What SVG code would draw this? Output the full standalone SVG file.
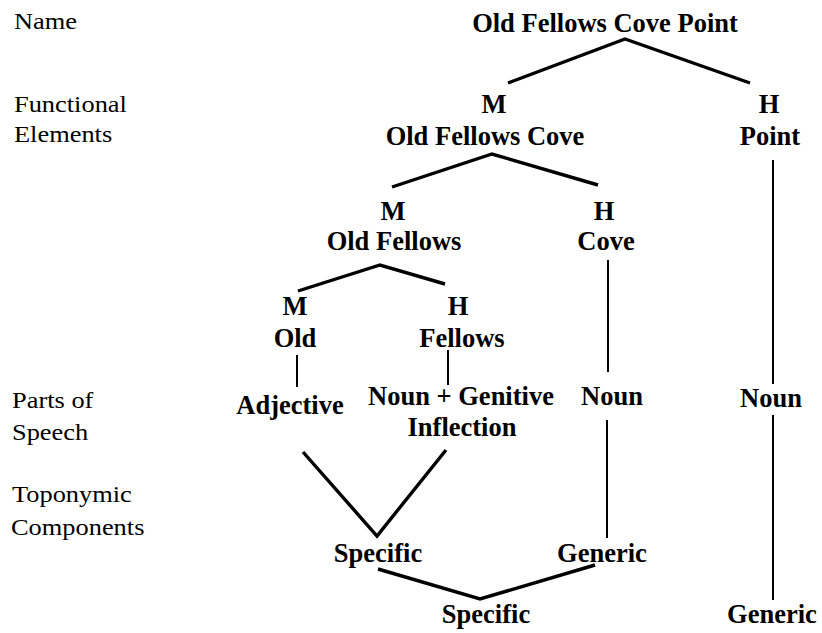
<svg xmlns="http://www.w3.org/2000/svg" width="822" height="633" viewBox="0 0 822 633">
  <style>
    text { font-family: "Liberation Serif", "Times New Roman", serif; fill: #000; }
    .lbl { font-size: 24px; font-weight: normal; }
    .nd { font-size: 26.5px; font-weight: bold; text-anchor: middle; }
    .br { fill: none; stroke: #000; stroke-width: 3.4; stroke-linejoin: miter; stroke-linecap: butt; }
    .st { fill: none; stroke: #000; stroke-width: 2; }
  </style>
  <rect width="822" height="633" fill="#fff"/>

  <!-- row labels (left column) -->
  <g id="row-labels">
    <text class="lbl" transform="translate(14,29) scale(1.1,1)">Name</text>
    <text class="lbl" transform="translate(14,112) scale(1.1,1)">Functional</text>
    <text class="lbl" transform="translate(14,142) scale(1.1,1)">Elements</text>
    <text class="lbl" transform="translate(12,408) scale(1.1,1)">Parts of</text>
    <text class="lbl" transform="translate(12,440) scale(1.1,1)">Speech</text>
    <text class="lbl" transform="translate(12,502) scale(1.1,1)">Toponymic</text>
    <text class="lbl" transform="translate(11,535) scale(1.1,1)">Components</text>
  </g>

  <!-- connectors -->
  <g id="connectors">
    <polyline class="br" points="508,83 625,39 750,83"/>
    <polyline class="br" points="392,187 492,154 598,185"/>
    <polyline class="br" points="298,291 380,265 445,284"/>
    <line class="st" x1="773" y1="160" x2="773" y2="384"/>
    <line class="st" x1="608" y1="260" x2="608" y2="372"/>
    <line class="st" x1="297" y1="355" x2="297" y2="387"/>
    <line class="st" x1="448" y1="350" x2="448" y2="385"/>
    <line class="st" x1="607" y1="420" x2="607" y2="538"/>
    <line class="st" x1="773" y1="415" x2="773" y2="600"/>
    <polyline class="br" points="303,452 377,536 446,450"/>
    <polyline class="br" points="378,569 480,599 595,565"/>
  </g>

  <!-- name -->
  <g id="n-name">
    <text class="nd" x="605" y="32">Old Fellows Cove Point</text>
  </g>

  <!-- functional elements, level 1 -->
  <g id="n-m1">
    <text class="nd" x="494" y="113">M</text>
    <text class="nd" x="485" y="145">Old Fellows Cove</text>
  </g>
  <g id="n-h1">
    <text class="nd" x="769" y="113">H</text>
    <text class="nd" x="770" y="145">Point</text>
  </g>

  <!-- level 2 -->
  <g id="n-m2">
    <text class="nd" x="393" y="220">M</text>
    <text class="nd" x="394" y="250">Old Fellows</text>
  </g>
  <g id="n-h2">
    <text class="nd" x="604" y="220">H</text>
    <text class="nd" x="606" y="250">Cove</text>
  </g>

  <!-- level 3 -->
  <g id="n-m3">
    <text class="nd" x="295" y="315">M</text>
    <text class="nd" x="295" y="347">Old</text>
  </g>
  <g id="n-h3">
    <text class="nd" x="458" y="315">H</text>
    <text class="nd" x="462" y="347">Fellows</text>
  </g>

  <!-- parts of speech -->
  <g id="n-adjective">
    <text class="nd" x="290" y="414">Adjective</text>
  </g>
  <g id="n-noun-genitive">
    <text class="nd" x="461" y="405">Noun + Genitive</text>
    <text class="nd" x="462" y="436">Inflection</text>
  </g>
  <g id="n-noun-cove">
    <text class="nd" x="612" y="405">Noun</text>
  </g>
  <g id="n-noun-point">
    <text class="nd" x="771" y="407">Noun</text>
  </g>

  <!-- toponymic components -->
  <g id="n-specific-1">
    <text class="nd" x="378" y="562">Specific</text>
  </g>
  <g id="n-generic-1">
    <text class="nd" x="602" y="562">Generic</text>
  </g>
  <g id="n-specific-2">
    <text class="nd" x="486" y="623">Specific</text>
  </g>
  <g id="n-generic-2">
    <text class="nd" x="772" y="623">Generic</text>
  </g>
</svg>
